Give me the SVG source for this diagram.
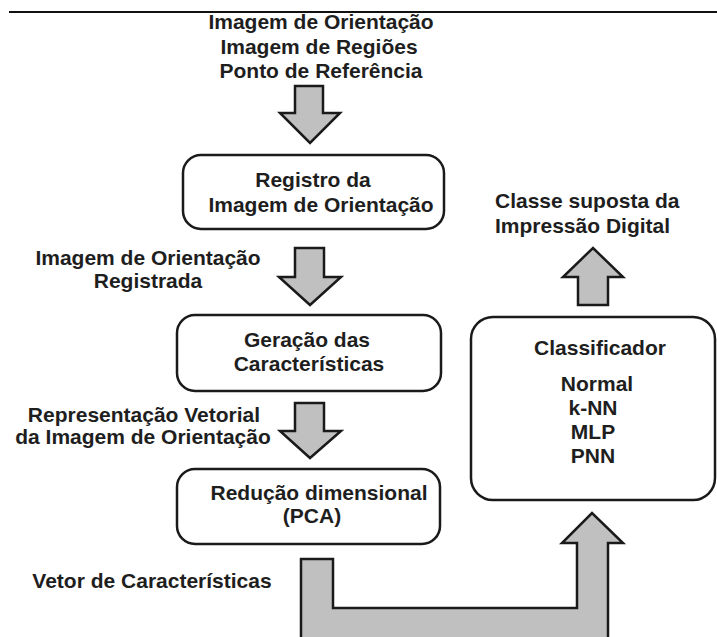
<svg xmlns="http://www.w3.org/2000/svg" width="717" height="637" viewBox="0 0 717 637">
<style>
.t{font-family:"Liberation Sans",Arial,sans-serif;font-weight:bold;font-size:21px;fill:#1e1e1e}
.c{text-anchor:middle}
.box{fill:#fff;stroke:#1a1a1a;stroke-width:2.5}
.arr{fill:#c0c0c0;stroke:#1a1a1a;stroke-width:2.5;stroke-linejoin:miter}
</style>
<rect width="717" height="637" fill="#fff"/>
<line x1="9" y1="12" x2="717" y2="12" stroke="#111" stroke-width="2"/>
<g id="input-labels">
<text class="t c" x="321" y="29">Imagem de Orientação</text>
<text class="t c" x="319" y="54">Imagem de Regiões</text>
<text class="t c" x="321" y="78">Ponto de Referência</text>
</g>
<g id="connectors">
<polygon class="arr" points="295,86 323,86 323,113 340,113 310,143 280,113 295,113"/>
<polygon class="arr" points="295,248 324,248 324,277 341,277 310,305 279,277 295,277"/>
<polygon class="arr" points="295,403 324,403 324,431 341,431 310,458 280,431 295,431"/>
<polygon class="arr" points="301,645 301,559 333,559 333,608 577,608 577,543 562,543 592,513 623,543 608,543 608,645"/>
<polygon class="arr" points="578,305 608,305 608,277 623,277 593,248 563,277 578,277"/>
</g>
<g id="registro">
<rect class="box" x="183" y="155" width="261" height="74" rx="18"/>
<text class="t c" x="313" y="187">Registro da</text>
<text class="t c" x="321" y="212">Imagem de Orientação</text>
</g>
<g id="label-registrada">
<text class="t c" x="148" y="265">Imagem de Orientação</text>
<text class="t c" x="148" y="288">Registrada</text>
</g>
<g id="geracao">
<rect class="box" x="177" y="315" width="264" height="76" rx="18"/>
<text class="t c" x="307" y="347">Geração das</text>
<text class="t c" x="309" y="371">Características</text>
</g>
<g id="label-vetorial">
<text class="t c" x="144" y="422">Representação Vetorial</text>
<text class="t c" x="143" y="444">da Imagem de Orientação</text>
</g>
<g id="reducao">
<rect class="box" x="177" y="469" width="263" height="75" rx="18"/>
<text class="t c" x="319" y="500">Redução dimensional</text>
<text class="t c" x="312" y="523">(PCA)</text>
</g>
<g id="label-vetor">
<text class="t c" x="152" y="588">Vetor de Características</text>
</g>
<g id="classificador">
<rect class="box" x="471" y="317" width="244" height="183" rx="22"/>
<text class="t c" x="600" y="355">Classificador</text>
<text class="t c" x="597" y="391">Normal</text>
<text class="t c" x="593" y="415">k-NN</text>
<text class="t c" x="593" y="439">MLP</text>
<text class="t c" x="593" y="463">PNN</text>
</g>
<g id="label-classe">
<text class="t" x="495" y="208">Classe suposta da</text>
<text class="t" x="495" y="233">Impressão Digital</text>
</g>
</svg>
